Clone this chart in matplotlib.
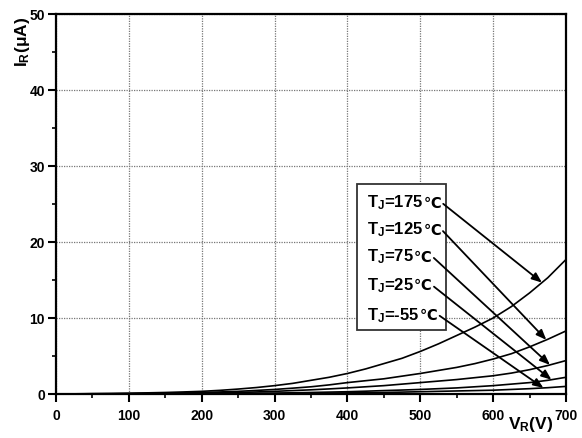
import numpy as np
import matplotlib
matplotlib.use("Agg")
import matplotlib.pyplot as plt

# ---- data ----
voltage = [0, 25, 50, 75, 100, 125, 150, 175, 200, 225, 250, 275, 300, 325, 350,
           375, 400, 425, 450, 475, 500, 525, 550, 575, 600, 625, 650, 675, 700]
ir_175 = [0, 0.02, 0.05, 0.07, 0.1, 0.15, 0.2, 0.27, 0.35, 0.48, 0.65, 0.85, 1.1, 1.4, 1.8,
          2.2, 2.7, 3.3, 4.0, 4.7, 5.6, 6.6, 7.7, 8.8, 10.0, 11.5, 13.3, 15.3, 17.7]
ir_125 = [0, 0.01, 0.03, 0.04, 0.06, 0.08, 0.1, 0.15, 0.2, 0.27, 0.35, 0.47, 0.6, 0.77, 0.95,
          1.2, 1.5, 1.75, 2.0, 2.35, 2.7, 3.1, 3.5, 4.0, 4.6, 5.3, 6.2, 7.2, 8.3]
ir_75 = [0, 0.005, 0.01, 0.02, 0.03, 0.04, 0.05, 0.07, 0.1, 0.15, 0.2, 0.27, 0.35, 0.45, 0.55,
         0.67, 0.8, 0.95, 1.1, 1.3, 1.5, 1.7, 1.9, 2.15, 2.4, 2.75, 3.2, 3.75, 4.4]
ir_25 = [0, 0.002, 0.005, 0.008, 0.01, 0.015, 0.02, 0.03, 0.04, 0.05, 0.07, 0.09, 0.12, 0.16, 0.2,
         0.25, 0.3, 0.37, 0.45, 0.52, 0.6, 0.7, 0.8, 0.95, 1.1, 1.3, 1.5, 1.8, 2.2]
ir_m55 = [0, 0.001, 0.002, 0.003, 0.005, 0.007, 0.01, 0.015, 0.02, 0.025, 0.03, 0.04, 0.05, 0.07, 0.1,
          0.12, 0.15, 0.17, 0.2, 0.25, 0.3, 0.35, 0.4, 0.45, 0.5, 0.6, 0.7, 0.83, 1.0]

series = [ir_175, ir_125, ir_75, ir_25, ir_m55]
labels = ["175", "125", "75", "25", "-55"]
arrow_v = [667, 673, 678, 680, 669]   # voltage where each arrow points

x_ticks = [0, 100, 200, 300, 400, 500, 600, 700]
y_ticks = [0, 10, 20, 30, 40, 50]

plt.rcParams['font.family'] = ['Liberation Sans', 'DejaVu Sans']
plt.rcParams['font.weight'] = 'bold'
plt.rcParams['mathtext.fontset'] = 'custom'
plt.rcParams['mathtext.rm'] = 'Liberation Sans:bold'
plt.rcParams['mathtext.it'] = 'Liberation Sans:bold'
plt.rcParams['mathtext.bf'] = 'Liberation Sans:bold'
plt.rcParams['mathtext.default'] = 'rm'

fig = plt.figure(figsize=(5.82, 4.39), dpi=100)
ax = fig.add_axes([56/582, 44/439, 510/582, 380/439])

for s in series:
    ax.plot(voltage, s, color='black', lw=1.2)

ax.set_xlim(0, 700)
ax.set_ylim(0, 50)
ax.set_xticks(x_ticks)
ax.set_yticks(y_ticks)
ax.set_xticks(np.arange(50, 700, 100), minor=True)
ax.set_yticks(np.arange(5, 50, 10), minor=True)
ax.tick_params(axis='both', which='major', direction='out', length=6, width=1.5,
               labelsize=10, pad=2)
ax.tick_params(axis='both', which='minor', direction='out', length=3, width=1.2)
ax.tick_params(axis='x', which='major', pad=4)
for lab in ax.get_xticklabels() + ax.get_yticklabels():
    lab.set_fontweight('bold')
for sp in ax.spines.values():
    sp.set_linewidth(1.6)
ax.grid(True, which='major', color='#777777', linestyle=(0, (1, 1)), lw=0.9)

fig.text(23/582, 1 - 17/439, "I$_R$(μA)", fontsize=12.5, fontweight='bold',
         rotation=90, ha='center', va='top')
fig.text(531/582, 1 - 425/439, "V$_R$(V)", fontsize=12.5, fontweight='bold',
         ha='center', va='center')

# legend box with labels and arrows
box = plt.Rectangle((0.59, 0.168), 0.175, 0.385, transform=ax.transAxes,
                    facecolor='white', edgecolor='#333333', lw=1.3, zorder=3)
ax.add_patch(box)
label_y = [0.505, 0.434, 0.363, 0.287, 0.21]
for s, lab, v, ty in zip(series, labels, arrow_v, label_y):
    yv = float(np.interp(v, voltage, s))
    t1 = ax.text(0.61, ty, "T$_J$=" + lab, transform=ax.transAxes,
                 ha='left', va='center', fontsize=12, fontweight='bold', zorder=4)
    t2 = ax.annotate("℃", xy=(1.0, 0.5), xycoords=t1, ha='left', va='center',
                     fontsize=10.5, fontweight='bold', family='DejaVu Sans', zorder=4)
    ax.annotate("", xy=(v, yv), xycoords='data',
                xytext=(1.0, 0.5), textcoords=t2, zorder=4,
                arrowprops=dict(arrowstyle='-|>,head_length=0.5,head_width=0.2',
                                color='black', lw=1.3,
                                shrinkA=2, shrinkB=0, mutation_scale=12))

fig.savefig("out.png", dpi=100)
